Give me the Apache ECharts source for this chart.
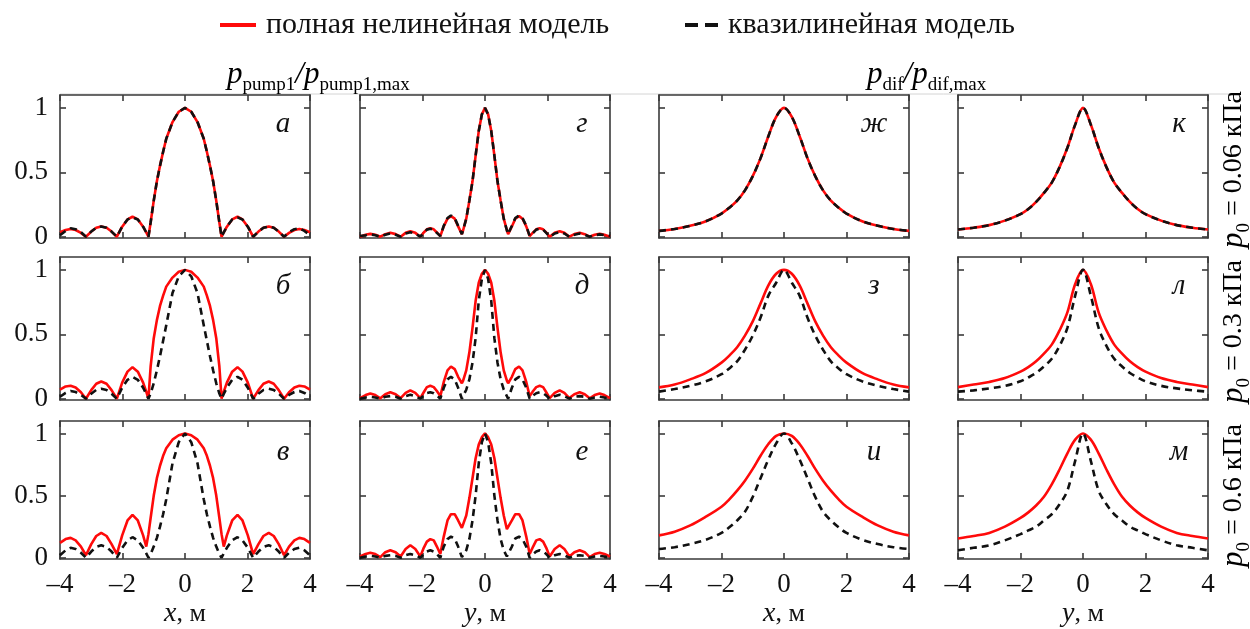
<!DOCTYPE html>
<html><head><meta charset="utf-8">
<script src="https://cdn.jsdelivr.net/npm/echarts@6/dist/echarts.min.js"></script>
<style>html,body{margin:0;padding:0;background:#fff}#c{width:1250px;height:629px}</style>
</head><body><div id="c"></div>
<script>
// ---------- sample positions (m) ----------
const xPumpX = [-4,-3.82,-3.66,-3.5,-3.33,-3.17,-3,-2.84,-2.68,-2.51,-2.35,-2.18,-2.01,-1.84,-1.68,-1.51,-1.34,-1.24,-1.17,-1.1,-1,-0.9,-0.8,-0.7,-0.6,-0.4,-0.2,0,0.2,0.4,0.6,0.7,0.8,0.9,1,1.1,1.17,1.24,1.34,1.51,1.68,1.84,2.01,2.18,2.35,2.51,2.68,2.84,3,3.17,3.33,3.5,3.66,3.82,4];
const xPumpY = [-4,-3.82,-3.67,-3.51,-3.35,-3.19,-3.03,-2.86,-2.7,-2.54,-2.39,-2.23,-2.07,-1.96,-1.86,-1.75,-1.64,-1.54,-1.43,-1.32,-1.2,-1.09,-0.97,-0.86,-0.74,-0.7,-0.6,-0.5,-0.4,-0.3,-0.2,-0.1,0,0.1,0.2,0.3,0.4,0.5,0.6,0.7,0.74,0.86,0.97,1.09,1.2,1.32,1.43,1.54,1.64,1.75,1.86,1.96,2.07,2.23,2.39,2.54,2.7,2.86,3.03,3.19,3.35,3.51,3.67,3.82,4];
const xDif = [-4,-3.5,-3,-2.5,-2,-1.75,-1.5,-1.25,-1,-0.75,-0.5,-0.25,0,0.25,0.5,0.75,1,1.25,1.5,1.75,2,2.5,3,3.5,4];

// ---------- p_pump1 / p_pump1,max  vs x ----------
const pumpX_006_full  = [0.035,0.052,0.06,0.052,0.03,0,0.04,0.069,0.08,0.069,0.04,0,0.078,0.134,0.155,0.134,0.078,0.033,0,0.11,0.28,0.43,0.55,0.66,0.76,0.89,0.97,1,0.97,0.89,0.76,0.66,0.55,0.43,0.28,0.11,0,0.033,0.078,0.134,0.155,0.134,0.078,0,0.04,0.069,0.08,0.069,0.04,0,0.03,0.052,0.06,0.052,0.035];
const pumpX_006_quasi = [0.012,0.045,0.065,0.058,0.035,0,0.04,0.069,0.08,0.069,0.04,0,0.078,0.134,0.15,0.134,0.078,0.033,0,0.11,0.28,0.43,0.55,0.66,0.76,0.89,0.97,1,0.97,0.89,0.76,0.66,0.55,0.43,0.28,0.11,0,0.033,0.078,0.134,0.15,0.134,0.078,0,0.04,0.069,0.08,0.069,0.04,0,0.035,0.058,0.065,0.045,0.012];
const pumpX_03_full   = [0.07,0.095,0.1,0.087,0.05,0,0.067,0.116,0.134,0.116,0.067,0,0.125,0.21,0.245,0.21,0.125,0.055,0,0.25,0.47,0.61,0.72,0.8,0.87,0.94,0.985,1,0.985,0.94,0.87,0.8,0.72,0.61,0.47,0.25,0,0.055,0.125,0.21,0.245,0.21,0.125,0,0.067,0.116,0.134,0.116,0.067,0,0.05,0.087,0.1,0.095,0.07];
const pumpX_03_quasi  = [0.015,0.045,0.06,0.052,0.03,0,0.039,0.068,0.078,0.068,0.039,0,0.085,0.147,0.17,0.147,0.085,0.037,0,0.04,0.12,0.22,0.33,0.45,0.57,0.82,0.95,1,0.95,0.82,0.57,0.45,0.33,0.22,0.12,0.04,0,0.037,0.085,0.147,0.17,0.147,0.085,0,0.039,0.068,0.078,0.068,0.039,0,0.03,0.052,0.06,0.045,0.015];
const pumpX_06_full   = [0.12,0.15,0.16,0.14,0.09,0.02,0.11,0.175,0.2,0.175,0.11,0.03,0.18,0.3,0.345,0.3,0.18,0.09,0.19,0.32,0.5,0.64,0.74,0.82,0.88,0.95,0.985,1,0.985,0.95,0.88,0.82,0.74,0.64,0.5,0.32,0.19,0.09,0.18,0.3,0.345,0.3,0.18,0.03,0.11,0.175,0.2,0.175,0.11,0.02,0.09,0.14,0.16,0.15,0.12];
const pumpX_06_quasi  = [0.02,0.06,0.08,0.07,0.04,0,0.05,0.087,0.1,0.087,0.05,0,0.08,0.14,0.165,0.14,0.08,0.035,0,0.03,0.09,0.16,0.25,0.35,0.47,0.76,0.93,1,0.93,0.76,0.47,0.35,0.25,0.16,0.09,0.03,0,0.035,0.08,0.14,0.165,0.14,0.08,0,0.05,0.087,0.1,0.087,0.05,0,0.04,0.07,0.08,0.06,0.02];

// ---------- p_pump1 / p_pump1,max  vs y ----------
const pumpY_006_full  = [0,0.015,0.022,0.015,0,0.02,0.03,0.02,0,0.03,0.042,0.03,0,0.033,0.057,0.065,0.057,0.033,0.005,0.08,0.14,0.16,0.14,0.08,0.02,0.05,0.14,0.28,0.43,0.63,0.82,0.95,1,0.95,0.82,0.63,0.43,0.28,0.14,0.05,0.02,0.08,0.14,0.16,0.14,0.08,0.005,0.033,0.057,0.065,0.057,0.033,0,0.03,0.042,0.03,0,0.02,0.03,0.02,0,0.015,0.022,0.015,0];
const pumpY_006_quasi = [0.005,0.012,0.018,0.012,0,0.015,0.025,0.015,0,0.025,0.035,0.025,0,0.03,0.055,0.062,0.055,0.03,0.005,0.085,0.145,0.165,0.145,0.085,0.02,0.05,0.14,0.28,0.43,0.63,0.82,0.95,1,0.95,0.82,0.63,0.43,0.28,0.14,0.05,0.02,0.085,0.145,0.165,0.145,0.085,0.005,0.03,0.055,0.062,0.055,0.03,0,0.025,0.035,0.025,0,0.015,0.025,0.015,0,0.012,0.018,0.012,0.005];
const pumpY_03_full   = [0.005,0.028,0.04,0.028,0.003,0.035,0.05,0.035,0.005,0.045,0.065,0.045,0.005,0.05,0.09,0.1,0.09,0.06,0.02,0.13,0.22,0.25,0.23,0.17,0.12,0.14,0.22,0.36,0.55,0.76,0.9,0.97,1,0.97,0.9,0.76,0.55,0.36,0.22,0.14,0.12,0.17,0.23,0.25,0.22,0.13,0.02,0.06,0.09,0.1,0.09,0.05,0.005,0.045,0.065,0.045,0.005,0.035,0.05,0.035,0.003,0.028,0.04,0.028,0.005];
const pumpY_03_quasi  = [0,0.01,0.015,0.01,0,0.015,0.02,0.015,0,0.02,0.03,0.02,0,0.025,0.043,0.05,0.043,0.025,0,0.085,0.15,0.17,0.15,0.085,0,0.02,0.07,0.15,0.28,0.47,0.76,0.93,1,0.93,0.76,0.47,0.28,0.15,0.07,0.02,0,0.085,0.15,0.17,0.15,0.085,0,0.025,0.043,0.05,0.043,0.025,0,0.02,0.03,0.02,0,0.015,0.02,0.015,0,0.01,0.015,0.01,0];
const pumpY_06_full   = [0.01,0.03,0.04,0.03,0.005,0.045,0.06,0.045,0.01,0.07,0.1,0.07,0.01,0.08,0.13,0.15,0.14,0.09,0.03,0.17,0.3,0.35,0.35,0.3,0.24,0.23,0.34,0.48,0.64,0.8,0.91,0.97,1,0.97,0.91,0.8,0.64,0.48,0.34,0.23,0.24,0.3,0.35,0.35,0.3,0.17,0.03,0.09,0.14,0.15,0.13,0.08,0.01,0.07,0.1,0.07,0.01,0.045,0.06,0.045,0.005,0.03,0.04,0.03,0.01];
const pumpY_06_quasi  = [0,0.01,0.015,0.01,0,0.015,0.02,0.015,0,0.02,0.03,0.02,0,0.03,0.05,0.06,0.05,0.03,0,0.09,0.15,0.17,0.155,0.09,0.005,0.01,0.06,0.15,0.3,0.5,0.76,0.93,1,0.93,0.76,0.5,0.3,0.15,0.06,0.01,0.005,0.09,0.155,0.17,0.15,0.09,0,0.03,0.05,0.06,0.05,0.03,0,0.02,0.03,0.02,0,0.015,0.02,0.015,0,0.01,0.015,0.01,0];

// ---------- p_dif / p_dif,max  vs x ----------
const difX_006_full  = [0.045,0.06,0.085,0.12,0.18,0.225,0.28,0.36,0.47,0.61,0.78,0.93,1,0.93,0.78,0.61,0.47,0.36,0.28,0.225,0.18,0.12,0.085,0.06,0.045];
const difX_006_quasi = [0.045,0.06,0.085,0.12,0.18,0.225,0.28,0.36,0.47,0.61,0.78,0.93,1,0.93,0.78,0.61,0.47,0.36,0.28,0.225,0.18,0.12,0.085,0.06,0.045];
const difX_03_full   = [0.088,0.11,0.15,0.2,0.28,0.335,0.4,0.49,0.6,0.74,0.88,0.97,1,0.97,0.88,0.74,0.6,0.49,0.4,0.335,0.28,0.2,0.15,0.11,0.088];
const difX_03_quasi  = [0.055,0.075,0.1,0.135,0.19,0.235,0.29,0.38,0.49,0.63,0.8,0.9,1,0.9,0.8,0.63,0.49,0.38,0.29,0.235,0.19,0.135,0.1,0.075,0.055];
const difX_06_full   = [0.18,0.21,0.26,0.33,0.41,0.47,0.54,0.62,0.715,0.82,0.915,0.98,1,0.98,0.915,0.82,0.715,0.62,0.54,0.47,0.41,0.33,0.26,0.21,0.18];
const difX_06_quasi  = [0.07,0.085,0.11,0.145,0.2,0.245,0.3,0.37,0.49,0.64,0.79,0.92,1,0.92,0.79,0.64,0.49,0.37,0.3,0.245,0.2,0.145,0.11,0.085,0.07];

// ---------- p_dif / p_dif,max  vs y ----------
const difY_006_full  = [0.056,0.07,0.09,0.125,0.175,0.215,0.27,0.34,0.42,0.54,0.69,0.87,1,0.87,0.69,0.54,0.42,0.34,0.27,0.215,0.175,0.125,0.09,0.07,0.056];
const difY_006_quasi = [0.056,0.07,0.09,0.125,0.175,0.215,0.27,0.34,0.42,0.54,0.69,0.87,1,0.87,0.69,0.54,0.42,0.34,0.27,0.215,0.175,0.125,0.09,0.07,0.056];
const difY_03_full   = [0.09,0.11,0.13,0.16,0.21,0.245,0.29,0.35,0.42,0.53,0.67,0.89,1,0.89,0.67,0.53,0.42,0.35,0.29,0.245,0.21,0.16,0.13,0.11,0.09];
const difY_03_quasi  = [0.055,0.065,0.08,0.1,0.135,0.165,0.2,0.25,0.31,0.41,0.55,0.8,1,0.8,0.55,0.41,0.31,0.25,0.2,0.165,0.135,0.1,0.08,0.065,0.055];
const difY_06_full   = [0.155,0.175,0.2,0.25,0.32,0.365,0.42,0.49,0.59,0.71,0.84,0.95,1,0.95,0.84,0.71,0.59,0.49,0.42,0.365,0.32,0.25,0.2,0.175,0.155];
const difY_06_quasi  = [0.06,0.08,0.1,0.14,0.19,0.22,0.25,0.3,0.35,0.43,0.54,0.78,1,0.78,0.54,0.43,0.35,0.3,0.25,0.22,0.19,0.14,0.1,0.08,0.06];

// ---------- labels ----------
const xTicks = [-4, -2, 0, 2, 4];
const yTicks = [0, 0.5, 1];
const panelLetters = [['а','г','ж','к'],['б','д','з','л'],['в','е','и','м']];
const axisVars = ['x','y','x','y'];
const pressureLabels = ['0.06', '0.3', '0.6'];
const legendNames = ['полная нелинейная модель', 'квазилинейная модель'];

// ---------- layout ----------
const FONT = "'Liberation Serif','Times New Roman',serif";
const RED = '#ff0a0a', BLK = '#111111', AX = '#3a3a3a';
const lefts = [60, 360, 659, 958], tops = [95, 257, 421], W = 250, H = 143;

const table = [
  [[xPumpX, pumpX_006_full, pumpX_006_quasi], [xPumpY, pumpY_006_full, pumpY_006_quasi], [xDif, difX_006_full, difX_006_quasi], [xDif, difY_006_full, difY_006_quasi]],
  [[xPumpX, pumpX_03_full, pumpX_03_quasi],   [xPumpY, pumpY_03_full, pumpY_03_quasi],   [xDif, difX_03_full, difX_03_quasi],   [xDif, difY_03_full, difY_03_quasi]],
  [[xPumpX, pumpX_06_full, pumpX_06_quasi],   [xPumpY, pumpY_06_full, pumpY_06_quasi],   [xDif, difX_06_full, difX_06_quasi],   [xDif, difY_06_full, difY_06_quasi]]
];
const zip = (xs, ys) => xs.map((x, k) => [x, ys[k]]).filter(p => p[1] !== undefined);

const grid = [], xAxis = [], yAxis = [], series = [], graphic = [];
let gi = 0;
for (let r = 0; r < 3; r++) {
  for (let c = 0; c < 4; c++) {
    const [xs, full, quasi] = table[r][c];
    const left = lefts[c], top = tops[r];
    grid.push({left, top, width: W, height: H, containLabel: false});
    const axLine = {show: true, onZero: false, lineStyle: {color: AX, width: 1.6}};
    const tick = {show: true, inside: true, length: 6, lineStyle: {color: AX, width: 1.6}};
    const last = r === 2;
    xAxis.push({gridIndex: gi, type: 'value', min: -4, max: 4, position: 'bottom',
      axisLine: axLine, axisTick: Object.assign({customValues: xTicks}, tick), splitLine: {show: false},
      axisLabel: {show: last, customValues: xTicks, margin: 12, fontSize: 27, fontFamily: FONT, color: '#111',
        formatter: v => String(v).replace('-', '\u2013')},
      name: last ? '{i|' + axisVars[c] + '}, м' : '', nameLocation: 'middle', nameGap: 41,
      nameTextStyle: {fontFamily: FONT, fontSize: 26, color: '#111',
        rich: {i: {fontFamily: FONT, fontSize: 28, fontStyle: 'italic', color: '#111'}}}
    });
    xAxis.push({gridIndex: gi, type: 'value', min: -4, max: 4, position: 'top',
      axisLine: axLine, axisTick: Object.assign({customValues: xTicks}, tick), axisLabel: {show: false}, splitLine: {show: false}});
    yAxis.push({gridIndex: gi, type: 'value', min: -0.01, max: 1.1, position: 'left',
      axisLine: axLine, axisTick: Object.assign({customValues: yTicks}, tick), splitLine: {show: false},
      axisLabel: {show: c === 0, customValues: yTicks, margin: 12, fontSize: 27, fontFamily: FONT, color: '#111'}});
    yAxis.push({gridIndex: gi, type: 'value', min: -0.01, max: 1.1, position: 'right',
      axisLine: axLine, axisTick: Object.assign({customValues: yTicks}, tick), axisLabel: {show: false}, splitLine: {show: false}});
    const smooth = c >= 2 ? 0.35 : false;
    series.push({type: 'line', name: legendNames[0], xAxisIndex: 2 * gi, yAxisIndex: 2 * gi,
      data: zip(xs, full), symbol: 'none', smooth, lineStyle: {color: RED, width: 2.6}, itemStyle: {color: RED}, z: 2});
    series.push({type: 'line', name: legendNames[1], xAxisIndex: 2 * gi, yAxisIndex: 2 * gi,
      data: zip(xs, quasi), symbol: 'none', smooth, lineStyle: {color: BLK, width: 2.6, type: [7, 5]}, itemStyle: {color: BLK}, z: 3});
    graphic.push({type: 'text', x: left + [223, 222, 215, 221][c], y: top + (r === 2 ? 31 : 29),
      style: {text: panelLetters[r][c], font: 'italic 29px ' + FONT, fill: '#111', align: 'center', verticalAlign: 'middle'}});
    gi++;
  }
}

// titles
const sub = {fontFamily: FONT, fontSize: 19, color: '#111', verticalAlign: 'bottom'};
const ip = {fontFamily: FONT, fontSize: 31, fontStyle: 'italic', color: '#111', lineHeight: 40};
graphic.push({type: 'text', x: 227, y: 75, style: {text: '{p|p}{s|pump1}{p|/}{p|p}{s|pump1,max}',
  rich: {p: ip, s: sub}, align: 'left', verticalAlign: 'middle'}});
graphic.push({type: 'text', x: 867, y: 75, style: {text: '{p|p}{s|dif}{p|/}{p|p}{s|dif,max}',
  rich: {p: ip, s: sub}, align: 'left', verticalAlign: 'middle'}});
// pressure labels (rotated)
pressureLabels.forEach((v, r) => {
  graphic.push({type: 'text', x: 1234, y: tops[r] + H / 2 + 3, rotation: Math.PI / 2,
    style: {text: '{p|p}{s|0}{n| = ' + v + ' кПа}',
      rich: {p: ip, s: sub, n: {fontFamily: FONT, fontSize: 28, color: '#111', lineHeight: 40}},
      align: 'center', verticalAlign: 'middle'}});
});
// faint separator line at top of panels
graphic.push({type: 'line', shape: {x1: 60, y1: 94, x2: 1238, y2: 94}, style: {stroke: '#d4d4d4', lineWidth: 1}, z: -1});

const hidden = {color: 'rgba(0,0,0,0)', borderColor: 'rgba(0,0,0,0)', borderWidth: 0, opacity: 0};
const legendText = {fontFamily: FONT, fontSize: 30, color: '#111', padding: [0, 0, 0, 5]};
const chart = echarts.init(document.getElementById('c'), null, {renderer: 'canvas'});
chart.setOption({
  animation: false,
  backgroundColor: '#fff',
  legend: [
    {left: 218, top: 10, padding: 0, itemWidth: 36, itemHeight: 3, textStyle: legendText,
     data: [{name: legendNames[0], lineStyle: {width: 4, color: RED}, itemStyle: hidden}]},
    {left: 683, top: 10, padding: 0, itemWidth: 33, itemHeight: 3, textStyle: legendText,
     data: [{name: legendNames[1], lineStyle: {width: 4, color: BLK, type: [13, 7]}, itemStyle: hidden}]}
  ],
  grid, xAxis, yAxis, series, graphic
});
</script>
</body></html>
